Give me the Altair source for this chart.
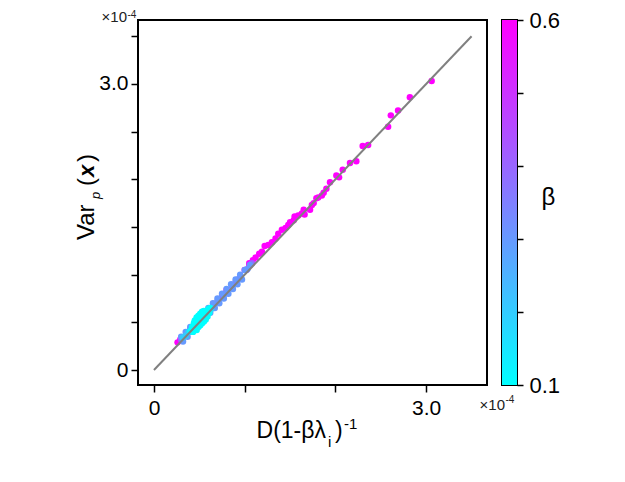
import altair as alt
import pandas as pd

FONT = "Liberation Sans"

# ---- data (values in units of 1e-4) ----
B06_X = [0.26, 0.29, 0.40, 0.60, 0.80, 1.00, 1.05, 1.09, 1.12, 1.16, 1.19, 1.22, 1.26, 1.30, 1.34, 1.37,
         1.41, 1.45, 1.48, 1.50, 1.54, 1.55, 1.59, 1.63, 1.65, 1.66, 1.72, 1.74, 1.76, 1.79, 1.81, 1.85,
         1.87, 1.90, 1.94, 2.01, 2.04, 2.08, 2.16, 2.23, 2.30, 2.36, 2.58, 2.61, 2.69, 2.82, 3.06]
B06_Y = [0.29, 0.32, 0.43, 0.63, 0.84, 1.05, 1.12, 1.15, 1.18, 1.22, 1.24, 1.30, 1.31, 1.34, 1.38, 1.43,
         1.47, 1.49, 1.52, 1.55, 1.57, 1.61, 1.62, 1.64, 1.68, 1.63, 1.68, 1.73, 1.75, 1.80, 1.81, 1.83,
         1.86, 1.90, 1.97, 2.04, 2.02, 2.10, 2.17, 2.19, 2.35, 2.36, 2.55, 2.67, 2.72, 2.86, 3.03]

B05_X = [0.30, 0.45, 0.60, 0.75, 0.90, 1.05]
B05_Y = [0.32, 0.47, 0.62, 0.77, 0.92, 1.10]

B04_X = [0.30, 0.38, 0.46, 0.54, 0.62, 0.70, 0.78, 0.86, 0.94, 1.02, 1.08]
B04_Y = [0.32, 0.40, 0.48, 0.56, 0.64, 0.72, 0.80, 0.88, 0.96, 1.05, 1.12]

B03_X = [0.30, 0.32, 0.35, 0.37, 0.40, 0.42, 0.45, 0.47, 0.50, 0.52, 0.55, 0.57, 0.60, 0.62, 0.65, 0.67,
         0.70, 0.72, 0.75, 0.77, 0.80, 0.82, 0.85, 0.87, 0.90, 0.92, 0.95, 0.97, 1.00, 1.03, 1.06]
B03_Y = [0.35, 0.30, 0.40, 0.35, 0.45, 0.40, 0.50, 0.45, 0.55, 0.50, 0.60, 0.55, 0.65, 0.60, 0.70, 0.65,
         0.75, 0.70, 0.80, 0.75, 0.85, 0.80, 0.90, 0.85, 0.95, 0.90, 1.00, 0.95, 1.05, 1.06, 1.10]

B02_X = [0.32, 0.35, 0.38, 0.41, 0.44, 0.60, 0.63]
B02_Y = [0.34, 0.36, 0.40, 0.42, 0.46, 0.62, 0.64]

B01_X = [0.40, 0.42, 0.43, 0.44, 0.45, 0.45, 0.46, 0.47, 0.47, 0.48, 0.49, 0.49, 0.50, 0.51, 0.51, 0.52,
         0.53, 0.53, 0.54, 0.55, 0.55, 0.56, 0.57, 0.58, 0.59, 0.60, 0.61, 0.62, 0.46, 0.56]
B01_Y = [0.41, 0.45, 0.40, 0.49, 0.43, 0.52, 0.46, 0.42, 0.55, 0.49, 0.45, 0.57, 0.51, 0.47, 0.59, 0.53,
         0.49, 0.61, 0.55, 0.51, 0.62, 0.57, 0.53, 0.61, 0.56, 0.64, 0.60, 0.65, 0.50, 0.60]

SERIES = [(0.6, B06_X, B06_Y), (0.5, B05_X, B05_Y), (0.4, B04_X, B04_Y),
          (0.3, B03_X, B03_Y), (0.2, B02_X, B02_Y), (0.1, B01_X, B01_Y)]

LINE_X = [0.0, 3.5]
LINE_Y = [0.0, 3.5]

X_TICKS = [0, 1, 2, 3]
Y_TICKS = [0, 0.5, 1, 1.5, 2, 2.5, 3, 3.5]
BETA_TICKS = [0.1, 0.2, 0.3, 0.4, 0.5, 0.6]
BETA_RANGE = [0.1, 0.6]

X_DOMAIN = [-0.176, 3.67]
Y_DOMAIN = [-0.157, 3.67]

rows = []
for b, xs, ys in SERIES:
    for x, y in zip(xs, ys):
        rows.append({"x": x, "y": y, "beta": b})
df = pd.DataFrame(rows)
df["order"] = range(len(df))

W, H = 349, 365

xscale = alt.Scale(domain=X_DOMAIN, nice=False, zero=False)
yscale = alt.Scale(domain=Y_DOMAIN, nice=False, zero=False)
cscale = alt.Scale(domain=BETA_RANGE, range=["#00ffff", "#ff00ff"], interpolate="rgb")

lbl = "datum.value == 0 ? '0' : datum.value == 3 ? '3.0' : ''"
xaxis = alt.Axis(values=X_TICKS, labelExpr=lbl, title=None, labelPadding=5, labelFlush=False)
yaxis = alt.Axis(values=Y_TICKS, labelExpr=lbl, title=None, labelPadding=3, labelFlush=False)

points = alt.Chart(df).mark_circle(size=42, opacity=1).encode(
    x=alt.X("x:Q", scale=xscale, axis=xaxis),
    y=alt.Y("y:Q", scale=yscale, axis=yaxis),
    color=alt.Color("beta:Q", scale=cscale, legend=None),
    order=alt.Order("order:Q"),
)

line = alt.Chart(pd.DataFrame({"x": LINE_X, "y": LINE_Y})).mark_line(
    color="#808080", strokeWidth=2
).encode(
    x=alt.X("x:Q", scale=xscale, axis=xaxis),
    y=alt.Y("y:Q", scale=yscale, axis=yaxis),
)


def label(text, x, y, size, style="normal", weight="normal", angle=0, align="left", baseline="alphabetic", color="black"):
    return alt.Chart(pd.DataFrame({"t": [text]})).mark_text(
        font=FONT, fontSize=size, fontStyle=style, fontWeight=weight, angle=angle,
        align=align, baseline=baseline, color=color
    ).encode(text="t:N", x=alt.value(x), y=alt.value(y))


texts = [
    # x title: D(1-βλ_i)^-1
    label("D(1-βλ", 188, 418, 23, align="right"),
    label("i", 190, 427, 15),
    label(")", 197, 418, 23),
    label("-1", 206, 409, 15),
    # y title: Var_p(x)
    label("Var", -44.5, 220, 24, angle=270),
    label("p", -38, 179, 13, style="italic", angle=270),
    label("(", -44.5, 166, 24, angle=270),
    label("x", -44.5, 157, 22, style="italic", weight="bold", angle=270),
    label(")", -44.5, 142, 24, angle=270),
    # multipliers
    label("×10", -11, 2, 15, align="right", color="#222222"),
    label("-4", -10.5, -2, 10, color="#222222"),
    label("×10", 367, 390, 15, align="right", color="#222222"),
    label("-4", 367.5, 383, 10, color="#222222"),
]

main = alt.layer(points, line, *texts).properties(width=W, height=H)

cb = alt.Chart(pd.DataFrame({"lo": [BETA_RANGE[0]], "hi": [BETA_RANGE[1]]})).mark_rect(
    color=alt.Gradient(
        gradient="linear",
        stops=[alt.GradientStop(color="#00ffff", offset=0), alt.GradientStop(color="#ff00ff", offset=1)],
        x1=0, y1=1, x2=0, y2=0,
    )
).encode(
    x=alt.value(0), x2=alt.value(15),
    y=alt.Y("lo:Q", scale=alt.Scale(domain=BETA_RANGE, nice=False, zero=False),
            axis=alt.Axis(orient="right", values=BETA_TICKS,
                          labelExpr="datum.value == 0.1 ? '0.1' : datum.value == 0.6 ? '0.6' : ''",
                          title="β", titleAngle=0, titleX=31, titleY=177, titleAlign="center",
                          titleBaseline="middle", titleFontSize=24, titleFontWeight="normal",
                          labelFontSize=22, tickSize=6, labelPadding=6, labelFlush=False,
                          labelBaseline="middle")),
    y2="hi:Q",
).properties(width=15, height=H)

chart = alt.hconcat(main, cb, spacing=15, bounds="flush").properties(
    padding={"left": 65, "top": 0, "right": 5, "bottom": 5},
    background="white",
).configure_view(
    stroke="black", strokeWidth=2
).configure_axis(
    labelFont=FONT, labelFontSize=21, labelColor="black", titleFont=FONT, titleColor="black",
    tickColor="black", tickWidth=1.5, tickSize=7, domain=False, grid=False,
)

chart.save("out.html", embed_options={"renderer": "svg", "actions": False})
